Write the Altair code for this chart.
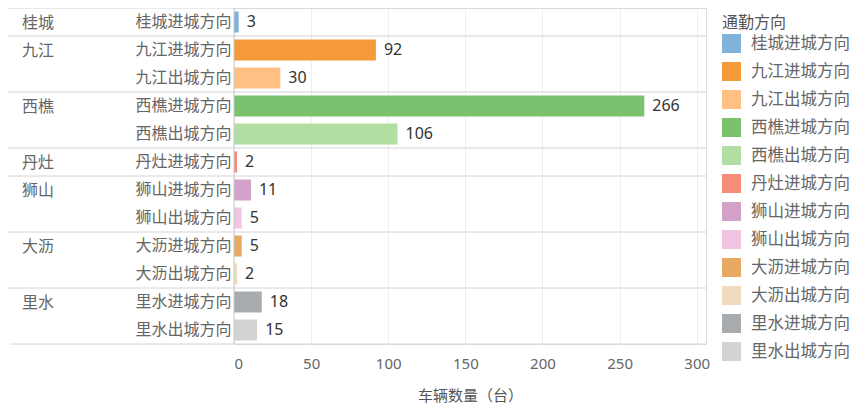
import altair as alt
import pandas as pd

regions = ["桂城", "九江", "西樵", "丹灶", "狮山", "大沥", "里水"]
directions = ["桂城进城方向", "九江进城方向", "九江出城方向", "西樵进城方向", "西樵出城方向",
              "丹灶进城方向", "狮山进城方向", "狮山出城方向", "大沥进城方向", "大沥出城方向",
              "里水进城方向", "里水出城方向"]
direction_region = ["桂城", "九江", "九江", "西樵", "西樵", "丹灶", "狮山", "狮山",
                    "大沥", "大沥", "里水", "里水"]
counts = [3, 92, 30, 266, 106, 2, 11, 5, 5, 2, 18, 15]
colors = ["#80B3DC", "#F59A3B", "#FEC183", "#7AC26E", "#B2DEA4", "#F78D78",
          "#D4A1C8", "#F1C5E2", "#E8AA62", "#F0DBBF", "#A9ACAE", "#D3D3D3"]
x_ticks = [0, 50, 100, 150, 200, 250, 300]

CJK = "Noto Sans CJK SC"
NUM = "Noto Sans"

df = pd.DataFrame({"方向": directions, "地区": direction_region, "数量": counts})
first_rows = [directions[direction_region.index(r)] for r in regions]
reg_df = pd.DataFrame({"方向": first_rows, "地区": regions})
last_df = pd.DataFrame({"方向": [directions[-1]]})

W, H = 472, 336

yscale = alt.Scale(domain=directions, paddingInner=0, paddingOuter=0)

bars = alt.Chart(df).mark_bar(size=21).encode(
    x=alt.X("数量:Q", scale=alt.Scale(domain=[0, 306], nice=False, zero=True),
            axis=alt.Axis(values=x_ticks, title="车辆数量（台）", grid=True,
                          gridColor="#efefef", ticks=False, domain=False,
                          labelFont=NUM, labelFontSize=15, labelColor="#666666",
                          labelPadding=12, titleFont=CJK, titleFontSize=15,
                          titleFontWeight="normal", titleColor="#555555",
                          titlePadding=17)),
    y=alt.Y("方向:N", scale=yscale, sort=directions,
            axis=alt.Axis(title=None, ticks=False, domain=False, grid=False,
                          labelFont=CJK, labelFontSize=16, labelColor="#666666",
                          labelAlign="right", labelPadding=3, labelLimit=200)),
    color=alt.Color("方向:N", scale=alt.Scale(domain=directions, range=colors),
                    sort=directions,
                    legend=alt.Legend(title="通勤方向", orient="none", legendX=488,
                                      legendY=7, symbolType="square", symbolSize=361,
                                      symbolStrokeWidth=0, symbolOpacity=1,
                                      labelFont=CJK, labelFontSize=16.5,
                                      labelColor="#666666", labelOffset=10,
                                      labelLimit=200, rowPadding=9,
                                      titleFont=CJK, titleFontSize=16,
                                      titleFontWeight="normal", titleColor="#555555",
                                      titlePadding=3)),
)

labels = alt.Chart(df).mark_text(align="left", baseline="middle", dx=8,
                                 font=NUM, fontSize=16, color="#333333").encode(
    x="数量:Q",
    y=alt.Y("方向:N", sort=directions),
    text="数量:Q",
)

zero_line = alt.Chart(pd.DataFrame({"数量": [0]})).mark_rule(
    color="#c8c8c8", strokeWidth=1).encode(x="数量:Q")

sep = alt.Chart(reg_df).mark_rule(color="#d4d4d4", strokeWidth=1).encode(
    y=alt.Y("方向:N", sort=directions, bandPosition=0),
    x=alt.value(-226), x2=alt.value(W),
)

bottom = alt.Chart(last_df).mark_rule(color="#d4d4d4", strokeWidth=1).encode(
    y=alt.Y("方向:N", sort=directions, bandPosition=1),
    x=alt.value(-224), x2=alt.value(W),
)

reg_text = alt.Chart(reg_df).mark_text(align="left", baseline="middle", dy=1,
                                       font=CJK, fontSize=16, color="#666666").encode(
    y=alt.Y("方向:N", sort=directions),
    x=alt.value(-212),
    text="地区:N",
)

chart = alt.layer(sep, bottom, bars, zero_line, labels, reg_text).properties(
    width=W, height=H,
    autosize=alt.AutoSizeParams(type="none"),
    padding={"left": 226, "top": 0, "right": 150, "bottom": 68},
).configure_view(stroke="#d9d9d9", strokeWidth=1).configure(background="white")

chart.save("out.html", embed_options={"renderer": "svg", "actions": False})
